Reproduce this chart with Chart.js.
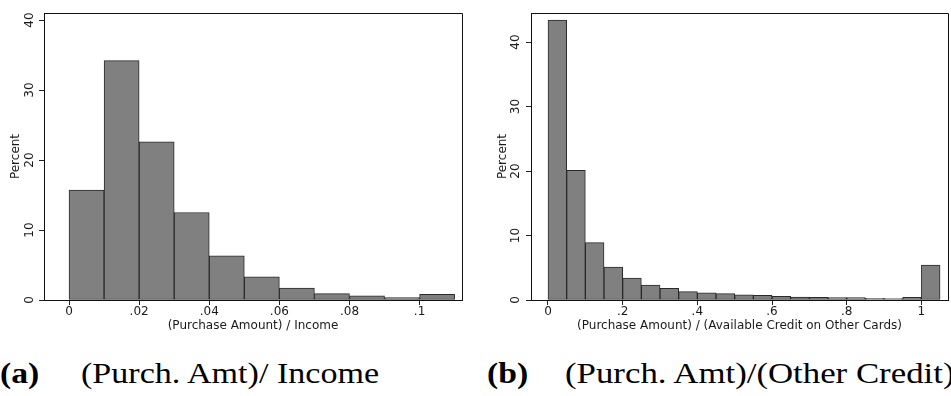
<!DOCTYPE html>
<html>
<head>
<meta charset="utf-8">
<script src="https://cdn.jsdelivr.net/npm/chart.js@4.4.1/dist/chart.umd.min.js"></script>
<style>
  html, body { margin: 0; padding: 0; background: #fff; overflow: hidden; }
  body { width: 951px; height: 396px; position: relative; }
  canvas { position: absolute; top: 0; }
  #incomeChart { left: 0; }
  #creditChart { left: 476px; }
  .cap {
    position: absolute; top: 359px;
    font-family: "Liberation Serif", serif; font-size: 29px; line-height: 29px;
    white-space: nowrap; color: #000;
    transform-origin: 0 0; transform: scaleX(1.16);
  }
</style>
</head>
<body>
<canvas id="incomeChart" width="475" height="336"></canvas>
<canvas id="creditChart" width="475" height="336"></canvas>
<div class="cap" style="left:0"><b>(a)</b></div>
<div class="cap" style="left:81px; transform:scaleX(1.175)">(Purch. Amt)/ Income</div>
<div class="cap" style="left:487px"><b>(b)</b></div>
<div class="cap" style="left:565px; transform:scaleX(1.2)">(Purch. Amt)/(Other Credit)</div>
<script>
// --- Data ---
const incomeBinStart = [0, .01, .02, .03, .04, .05, .06, .07, .08, .09, .10];
const incomeBinWidth = 0.01;
const incomePct = [15.7, 34.2, 22.6, 12.5, 6.3, 3.3, 1.7, 0.9, 0.6, 0.35, 0.8];
const incomeTicks = [0, .02, .04, .06, .08, .1];
const incomeTickLabels = ["0", ".02", ".04", ".06", ".08", ".1"];

const creditBinStart = [0, .05, .10, .15, .20, .25, .30, .35, .40, .45, .50,
                        .55, .60, .65, .70, .75, .80, .85, .90, .95, 1.0];
const creditBinWidth = 0.05;
const creditPct = [43.4, 20.1, 8.9, 5.1, 3.4, 2.3, 1.8, 1.3, 1.1, 1.0, 0.8,
                   0.73, 0.57, 0.47, 0.42, 0.36, 0.36, 0.26, 0.22, 0.4, 5.4];
const creditTicks = [0, .2, .4, .6, .8, 1];
const creditTickLabels = ["0", ".2", ".4", ".6", ".8", "1"];

const pctTicks = [0, 10, 20, 30, 40];
const pctTickLabels = ["0", "10", "20", "30", "40"];

Chart.defaults.font.family = "DejaVu Sans";
Chart.defaults.font.size = 12;
Chart.defaults.color = "#1a1a1a";

// black outline round the plot region (top + right, the axes give the rest)
const plotFrame = {
  id: "plotFrame",
  afterDraw(chart) {
    const { ctx, chartArea: a } = chart;
    const r = Math.round(a.right) + 0.5, t = Math.round(a.top) + 0.5;
    ctx.save();
    ctx.strokeStyle = "#111";
    ctx.lineWidth = 1;
    ctx.beginPath();
    ctx.moveTo(a.left, t);
    ctx.lineTo(r, t);
    ctx.lineTo(r, a.bottom);
    ctx.stroke();
    ctx.restore();
  }
};

function histogram(id, cfg) {
  const pts = cfg.starts.map((s, i) => ({ x: s + cfg.width / 2, y: cfg.values[i] }));
  return new Chart(document.getElementById(id), {
    type: "bar",
    data: {
      datasets: [{
        data: pts,
        backgroundColor: "#808080",
        borderColor: "#2a2a2a",
        borderWidth: 1,
        borderSkipped: false,
        barPercentage: 1,
        categoryPercentage: 1
      }]
    },
    plugins: [plotFrame],
    options: {
      responsive: false,
      animation: false,
      layout: { padding: { top: 13, right: cfg.padRight, left: 0, bottom: 0 } },
      plugins: { legend: { display: false }, tooltip: { enabled: false } },
      scales: {
        x: {
          type: "linear",
          offset: false,
          min: cfg.xMin,
          max: cfg.xMax,
          afterBuildTicks: s => { s.ticks = cfg.ticks.map(v => ({ value: v })); },
          afterFit: s => { s.height = 36; },
          ticks: {
            autoSkip: false, maxRotation: 0, padding: 0, color: "#1a1a1a",
            callback: (v, i) => cfg.tickLabels[i]
          },
          grid: { offset: false, drawOnChartArea: false, drawTicks: true, tickLength: 5, color: "#222" },
          border: { display: true, color: "#111", width: 1 },
          title: { display: true, text: cfg.xTitle, color: "#1a1a1a", padding: { top: 0, bottom: 3 } }
        },
        y: {
          min: 0,
          max: cfg.yMax,
          afterBuildTicks: s => { s.ticks = pctTicks.map(v => ({ value: v })); },
          afterFit: s => { s.width = cfg.yWidth; },
          ticks: {
            autoSkip: false, minRotation: 90, maxRotation: 90, crossAlign: "center",
            padding: cfg.yTickPad, color: "#1a1a1a",
            callback: (v, i) => pctTickLabels[i]
          },
          grid: { drawOnChartArea: false, drawTicks: true, tickLength: 5, color: "#222" },
          border: { display: true, color: "#111", width: 1 },
          title: { display: true, text: "Percent", color: "#1a1a1a", padding: { top: cfg.yTitlePad, bottom: 0 } }
        }
      }
    }
  });
}

histogram("incomeChart", {
  starts: incomeBinStart, width: incomeBinWidth, values: incomePct,
  ticks: incomeTicks, tickLabels: incomeTickLabels,
  xMin: -0.00714, xMax: 0.1121, yMax: 41.0,
  xTitle: "(Purchase Amount) / Income",
  padRight: 13, yWidth: 44, yTickPad: 1, yTitlePad: 9
});

histogram("creditChart", {
  starts: creditBinStart, width: creditBinWidth, values: creditPct,
  ticks: creditTicks, tickLabels: creditTickLabels,
  xMin: -0.0455, xMax: 1.0713, yMax: 44.5,
  xTitle: "(Purchase Amount) / (Available Credit on Other Cards)",
  padRight: 3, yWidth: 55, yTickPad: 2.5, yTitlePad: 20
});
</script>
</body>
</html>
